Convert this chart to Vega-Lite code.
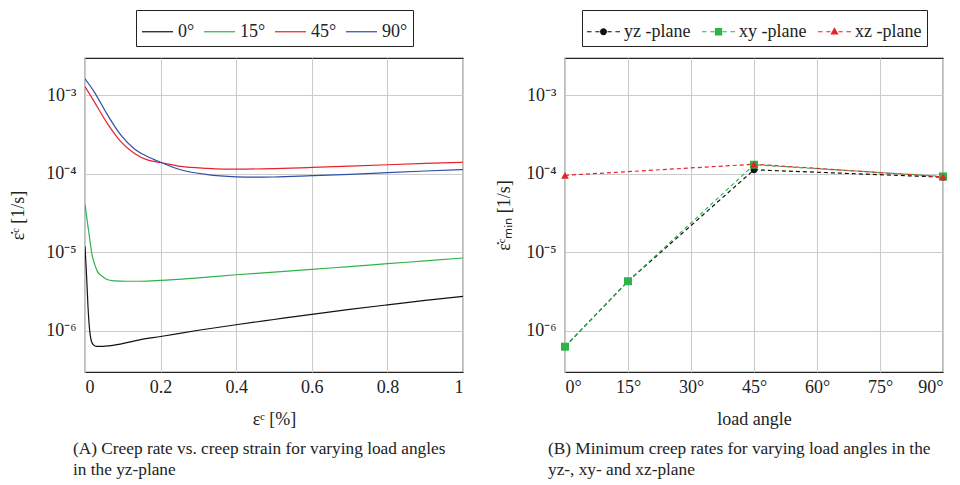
{
  "$schema": "https://vega.github.io/schema/vega-lite/v6.json",
  "background": "white",
  "padding": {"left": 9, "top": 8, "right": 5, "bottom": 5},
  "config": {
    "font": "Liberation Serif",
    "view": {"stroke": "#222222", "strokeWidth": 1.2},
    "style": {
      "guide-label": {"font": "Liberation Serif"},
      "guide-title": {"font": "Liberation Serif"}
    },
    "axis": {
      "labelFont": "Liberation Serif", "labelFontSize": 18, "labelColor": "#222222",
      "titleFont": "Liberation Serif", "titleFontSize": 18, "titleFontWeight": "normal", "titleColor": "#222222",
      "gridColor": "#cccccc", "gridWidth": 1.1, "domain": false, "ticks": false
    },
    "legend": {
      "labelFont": "Liberation Serif", "labelFontSize": 18, "labelColor": "#222222",
      "strokeColor": "#222222", "fillColor": "white", "cornerRadius": 0, "padding": 5
    },
    "title": {"font": "Liberation Serif", "fontSize": 17.3, "fontWeight": "normal", "color": "#222222"}
  },
  "spacing": 31,
  "resolve": {
    "scale": {"color": "independent", "shape": "independent", "x": "independent", "y": "independent"},
    "legend": {"color": "independent", "shape": "independent"}
  },
  "hconcat": [
    {
      "width": 378,
      "height": 314,
      "title": {
        "text": ["(A) Creep rate vs. creep strain for varying load angles", "in the yz-plane"],
        "orient": "bottom", "anchor": "start", "frame": "group", "dx": -12, "offset": 12, "lineHeight": 21
      },
      "data": {"values": [
        {"strain": 0, "rate": 1.2e-5, "angle": "0°"},
        {"strain": 0.0045, "rate": 4.7e-6, "angle": "0°"},
        {"strain": 0.008, "rate": 2.0e-6, "angle": "0°"},
        {"strain": 0.011, "rate": 1.2e-6, "angle": "0°"},
        {"strain": 0.017, "rate": 7.4e-7, "angle": "0°"},
        {"strain": 0.023, "rate": 6.6e-7, "angle": "0°"},
        {"strain": 0.03, "rate": 6.35e-7, "angle": "0°"},
        {"strain": 0.04, "rate": 6.35e-7, "angle": "0°"},
        {"strain": 0.077, "rate": 6.6e-7, "angle": "0°"},
        {"strain": 0.147, "rate": 7.76e-7, "angle": "0°"},
        {"strain": 0.2, "rate": 8.5e-7, "angle": "0°"},
        {"strain": 0.3, "rate": 1.02e-6, "angle": "0°"},
        {"strain": 0.4, "rate": 1.2e-6, "angle": "0°"},
        {"strain": 0.5, "rate": 1.4e-6, "angle": "0°"},
        {"strain": 0.6, "rate": 1.63e-6, "angle": "0°"},
        {"strain": 0.7, "rate": 1.88e-6, "angle": "0°"},
        {"strain": 0.8, "rate": 2.15e-6, "angle": "0°"},
        {"strain": 0.9, "rate": 2.45e-6, "angle": "0°"},
        {"strain": 1.0, "rate": 2.75e-6, "angle": "0°"},
        {"strain": 0, "rate": 4.1e-5, "angle": "15°"},
        {"strain": 0.005, "rate": 2.7e-5, "angle": "15°"},
        {"strain": 0.011, "rate": 1.68e-5, "angle": "15°"},
        {"strain": 0.0195, "rate": 8.9e-6, "angle": "15°"},
        {"strain": 0.025, "rate": 7.2e-6, "angle": "15°"},
        {"strain": 0.033, "rate": 5.7e-6, "angle": "15°"},
        {"strain": 0.045, "rate": 5.0e-6, "angle": "15°"},
        {"strain": 0.055, "rate": 4.6e-6, "angle": "15°"},
        {"strain": 0.077, "rate": 4.35e-6, "angle": "15°"},
        {"strain": 0.11, "rate": 4.3e-6, "angle": "15°"},
        {"strain": 0.147, "rate": 4.3e-6, "angle": "15°"},
        {"strain": 0.2, "rate": 4.4e-6, "angle": "15°"},
        {"strain": 0.3, "rate": 4.75e-6, "angle": "15°"},
        {"strain": 0.4, "rate": 5.2e-6, "angle": "15°"},
        {"strain": 0.5, "rate": 5.6e-6, "angle": "15°"},
        {"strain": 0.6, "rate": 6.1e-6, "angle": "15°"},
        {"strain": 0.7, "rate": 6.6e-6, "angle": "15°"},
        {"strain": 0.8, "rate": 7.2e-6, "angle": "15°"},
        {"strain": 0.9, "rate": 7.8e-6, "angle": "15°"},
        {"strain": 1.0, "rate": 8.5e-6, "angle": "15°"},
        {"strain": 0, "rate": 1.3e-3, "angle": "45°"},
        {"strain": 0.024, "rate": 8.4e-4, "angle": "45°"},
        {"strain": 0.059, "rate": 4.4e-4, "angle": "45°"},
        {"strain": 0.094, "rate": 2.6e-4, "angle": "45°"},
        {"strain": 0.13, "rate": 1.84e-4, "angle": "45°"},
        {"strain": 0.165, "rate": 1.51e-4, "angle": "45°"},
        {"strain": 0.2, "rate": 1.4e-4, "angle": "45°"},
        {"strain": 0.253, "rate": 1.25e-4, "angle": "45°"},
        {"strain": 0.324, "rate": 1.18e-4, "angle": "45°"},
        {"strain": 0.4, "rate": 1.15e-4, "angle": "45°"},
        {"strain": 0.5, "rate": 1.17e-4, "angle": "45°"},
        {"strain": 0.6, "rate": 1.21e-4, "angle": "45°"},
        {"strain": 0.7, "rate": 1.26e-4, "angle": "45°"},
        {"strain": 0.8, "rate": 1.31e-4, "angle": "45°"},
        {"strain": 0.9, "rate": 1.36e-4, "angle": "45°"},
        {"strain": 1.0, "rate": 1.41e-4, "angle": "45°"},
        {"strain": 0, "rate": 1.63e-3, "angle": "90°"},
        {"strain": 0.024, "rate": 1.12e-3, "angle": "90°"},
        {"strain": 0.059, "rate": 5.7e-4, "angle": "90°"},
        {"strain": 0.094, "rate": 3.16e-4, "angle": "90°"},
        {"strain": 0.13, "rate": 2.1e-4, "angle": "90°"},
        {"strain": 0.165, "rate": 1.67e-4, "angle": "90°"},
        {"strain": 0.2, "rate": 1.41e-4, "angle": "90°"},
        {"strain": 0.253, "rate": 1.13e-4, "angle": "90°"},
        {"strain": 0.324, "rate": 9.8e-5, "angle": "90°"},
        {"strain": 0.4, "rate": 9.2e-5, "angle": "90°"},
        {"strain": 0.45, "rate": 9.1e-5, "angle": "90°"},
        {"strain": 0.5, "rate": 9.15e-5, "angle": "90°"},
        {"strain": 0.6, "rate": 9.5e-5, "angle": "90°"},
        {"strain": 0.7, "rate": 9.9e-5, "angle": "90°"},
        {"strain": 0.8, "rate": 1.04e-4, "angle": "90°"},
        {"strain": 0.9, "rate": 1.09e-4, "angle": "90°"},
        {"strain": 1.0, "rate": 1.14e-4, "angle": "90°"}
      ]},
      "mark": {"type": "line", "strokeWidth": 1.2, "interpolate": "monotone", "clip": true},
      "encoding": {
        "x": {
          "field": "strain", "type": "quantitative",
          "scale": {"domain": [0, 1], "nice": false, "zero": false},
          "axis": {
            "values": [0, 0.2, 0.4, 0.6, 0.8, 1],
            "labelExpr": "datum.value == 0 ? '0' : datum.value == 1 ? '1' : format(datum.value, '.1f')",
            "labelFont": "Liberation Serif", "titleFont": "Liberation Serif",
            "labelPadding": 6, "titlePadding": 14, "title": "εᶜ [%]"
          }
        },
        "y": {
          "field": "rate", "type": "quantitative",
          "scale": {"type": "log", "domain": [3e-7, 3e-3], "nice": false},
          "axis": {
            "values": [1e-6, 1e-5, 1e-4, 1e-3],
            "labelExpr": "'10' + (datum.value < 5e-6 ? '⁻⁶' : datum.value < 5e-5 ? '⁻⁵' : datum.value < 5e-4 ? '⁻⁴' : '⁻³')",
            "labelFont": "Liberation Serif", "titleFont": "Liberation Serif",
            "labelPadding": 9, "titlePadding": 18, "title": "ε̇ᶜ [1/s]"
          }
        },
        "color": {
          "field": "angle", "type": "nominal",
          "scale": {"domain": ["0°", "15°", "45°", "90°"], "range": ["#111111", "#2db34a", "#e8222b", "#2f4fa6"]},
          "legend": {
            "title": null, "orient": "none", "legendX": 51, "legendY": -48, "direction": "horizontal",
            "labelFont": "Liberation Serif",
            "symbolType": "stroke", "symbolSize": 961, "symbolStrokeWidth": 1.2, "labelOffset": 4, "columnPadding": 6
          }
        }
      }
    },
    {
      "width": 378,
      "height": 314,
      "title": {
        "text": ["(B) Minimum creep rates for varying load angles in the", "yz-, xy- and xz-plane"],
        "orient": "bottom", "anchor": "start", "frame": "group", "dx": -17, "offset": 12, "lineHeight": 21
      },
      "data": {"values": [
        {"angle": 0, "rate": 6.3e-7, "plane": "yz -plane"},
        {"angle": 15, "rate": 4.3e-6, "plane": "yz -plane"},
        {"angle": 45, "rate": 1.13e-4, "plane": "yz -plane"},
        {"angle": 90, "rate": 9.1e-5, "plane": "yz -plane"},
        {"angle": 0, "rate": 6.3e-7, "plane": "xy -plane"},
        {"angle": 15, "rate": 4.3e-6, "plane": "xy -plane"},
        {"angle": 45, "rate": 1.31e-4, "plane": "xy -plane"},
        {"angle": 90, "rate": 9.3e-5, "plane": "xy -plane"},
        {"angle": 0, "rate": 9.6e-5, "plane": "xz -plane"},
        {"angle": 45, "rate": 1.33e-4, "plane": "xz -plane"},
        {"angle": 90, "rate": 9.2e-5, "plane": "xz -plane"}
      ]},
      "encoding": {
        "x": {
          "field": "angle", "type": "quantitative",
          "scale": {"domain": [0, 90], "nice": false},
          "axis": {
            "values": [0, 15, 30, 45, 60, 75, 90],
            "labelExpr": "datum.value + '°'",
            "labelFont": "Liberation Serif", "titleFont": "Liberation Serif",
            "labelPadding": 6, "titlePadding": 14, "title": "load angle"
          }
        },
        "y": {
          "field": "rate", "type": "quantitative",
          "scale": {"type": "log", "domain": [3e-7, 3e-3], "nice": false},
          "axis": {
            "values": [1e-6, 1e-5, 1e-4, 1e-3],
            "labelExpr": "'10' + (datum.value < 5e-6 ? '⁻⁶' : datum.value < 5e-5 ? '⁻⁵' : datum.value < 5e-4 ? '⁻⁴' : '⁻³')",
            "labelFont": "Liberation Serif", "titleFont": "Liberation Serif",
            "labelPadding": 9, "titlePadding": 12, "title": "ε̇ᶜₘᵢₙ [1/s]"
          }
        }
      },
      "layer": [
        {
          "transform": [{"filter": "datum.plane == 'yz -plane'"}],
          "mark": {"type": "line", "strokeWidth": 1.2, "strokeDash": [4, 3], "color": "#111111"}
        },
        {
          "transform": [{"filter": "datum.plane == 'xy -plane'"}],
          "mark": {"type": "line", "strokeWidth": 1.2, "strokeDash": [4, 3], "color": "#2db34a"}
        },
        {
          "transform": [{"filter": "datum.plane == 'xz -plane'"}],
          "mark": {"type": "line", "strokeWidth": 1.2, "strokeDash": [4, 3], "color": "#e8222b"}
        },
        {
          "transform": [{"filter": "datum.plane == 'yz -plane'"}],
          "mark": {"type": "point", "shape": "circle", "filled": true, "opacity": 1, "size": 45, "color": "#111111"}
        },
        {
          "transform": [{"filter": "datum.plane == 'xy -plane'"}],
          "mark": {"type": "point", "shape": "square", "filled": true, "opacity": 1, "size": 64, "color": "#2db34a"}
        },
        {
          "transform": [{"filter": "datum.plane == 'xz -plane'"}],
          "mark": {"type": "point", "shape": "triangle-up", "filled": true, "opacity": 1, "size": 60, "color": "#e8222b"}
        },
        {
          "transform": [{"filter": "datum.rate < 0"}],
          "mark": {"type": "point", "filled": true, "opacity": 1},
          "encoding": {
            "color": {
              "field": "plane", "type": "nominal",
              "scale": {"domain": ["yz -plane", "xy -plane", "xz -plane"], "range": ["#111111", "#2db34a", "#e8222b"]},
              "legend": {
                "title": null, "orient": "none", "legendX": 17, "legendY": -48, "direction": "horizontal",
                "labelFont": "Liberation Serif",
                "symbolSize": 1089, "symbolStrokeWidth": 0, "symbolOpacity": 1, "labelOffset": 4, "columnPadding": 11
              }
            },
            "shape": {
              "field": "plane", "type": "nominal",
              "scale": {
                "domain": ["yz -plane", "xy -plane", "xz -plane"],
                "range": [
                  "M-1,-0.036H-0.72V0.036H-1ZM-0.5,-0.036H-0.24V0.036H-0.5ZM0.24,-0.036H0.5V0.036H0.24ZM0.72,-0.036H1V0.036H0.72ZM-0.21,0A0.21,0.21,0,1,0,0.21,0A0.21,0.21,0,1,0,-0.21,0Z",
                  "M-1,-0.036H-0.72V0.036H-1ZM-0.5,-0.036H-0.24V0.036H-0.5ZM0.24,-0.036H0.5V0.036H0.24ZM0.72,-0.036H1V0.036H0.72ZM-0.22,-0.22H0.22V0.22H-0.22Z",
                  "M-1,-0.036H-0.72V0.036H-1ZM-0.5,-0.036H-0.24V0.036H-0.5ZM0.24,-0.036H0.5V0.036H0.24ZM0.72,-0.036H1V0.036H0.72ZM0,-0.27L0.25,0.16H-0.25Z"
                ]
              }
            }
          }
        }
      ]
    }
  ]
}
